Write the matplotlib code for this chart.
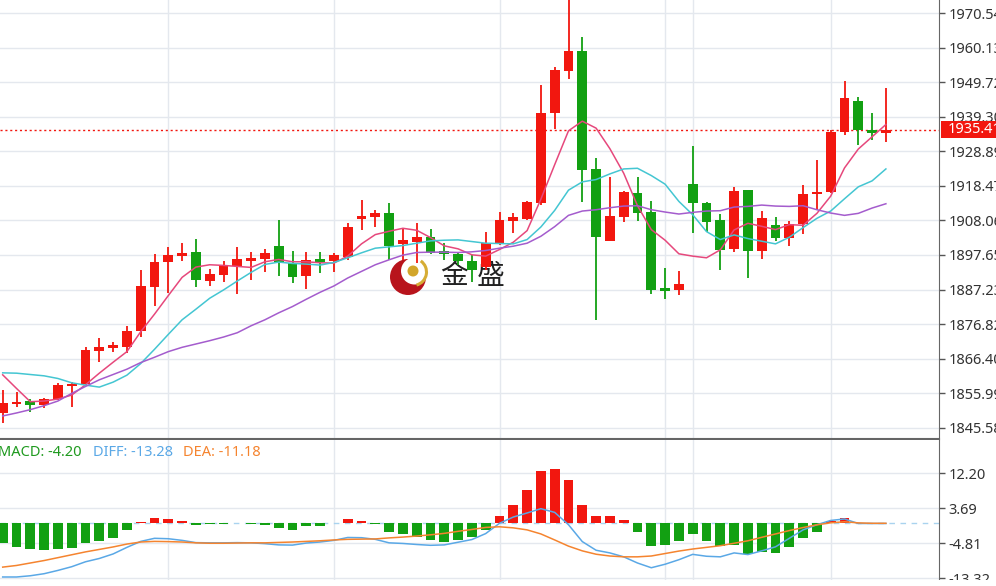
import matplotlib.pyplot as plt
import matplotlib as mplt
from matplotlib.patches import Circle, Arc, Rectangle
from matplotlib.transforms import IdentityTransform, blended_transform_factory
import numpy as np

mplt.rcParams['font.family'] = ['Noto Sans', 'DejaVu Sans']

# candles
opens = [1850.1, 1852.7, 1853.6, 1852.3, 1854.1, 1858.2, 1858.7, 1868.8, 1869.7, 1870.0,
         1874.7, 1888.1, 1895.6, 1897.3, 1898.5, 1889.9, 1891.5, 1894.4, 1895.9, 1896.4,
         1900.4, 1895.3, 1891.3, 1896.4, 1895.8, 1897.1, 1908.4, 1909.2, 1910.2, 1900.9,
         1901.7, 1903.2, 1898.6, 1897.9, 1895.9, 1894.1, 1901.2, 1908.0, 1908.5, 1913.2,
         1940.4, 1953.2, 1959.3, 1923.6, 1902.0, 1909.0, 1916.4, 1910.7, 1887.4, 1887.1,
         1919.1, 1913.2, 1908.2, 1899.4, 1917.3, 1898.9, 1906.7, 1902.7, 1906.9, 1916.1,
         1916.7, 1934.7, 1944.2, 1935.3, 1934.4]
highs = [1856.9, 1856.4, 1854.2, 1854.6, 1859.0, 1859.4, 1870.0, 1872.5, 1871.4, 1876.2,
         1893.1, 1897.9, 1900.2, 1901.2, 1902.5, 1893.4, 1895.8, 1900.0, 1898.5, 1899.5,
         1908.2, 1898.9, 1898.5, 1898.6, 1898.2, 1907.2, 1914.2, 1911.2, 1913.2, 1905.4,
         1907.2, 1905.4, 1901.2, 1898.6, 1897.7, 1904.7, 1910.5, 1910.2, 1913.9, 1948.9,
         1954.4, 1975.0, 1963.3, 1927.0, 1921.3, 1917.0, 1921.3, 1913.9, 1893.6, 1892.8,
         1930.6, 1913.7, 1910.0, 1918.2, 1917.3, 1911.0, 1909.0, 1907.9, 1918.8, 1926.3,
         1935.4, 1950.2, 1945.4, 1940.6, 1947.9]
lows = [1846.9, 1851.7, 1850.4, 1851.6, 1853.9, 1851.7, 1858.4, 1865.5, 1868.5, 1868.0,
        1873.0, 1882.3, 1886.2, 1895.9, 1887.9, 1888.4, 1889.6, 1885.9, 1890.1, 1892.6,
        1891.3, 1889.3, 1887.4, 1892.1, 1892.4, 1896.1, 1905.2, 1906.2, 1896.1, 1896.1,
        1895.1, 1898.0, 1896.1, 1894.6, 1889.6, 1893.1, 1900.7, 1904.4, 1908.2, 1912.7,
        1935.6, 1950.6, 1913.5, 1878.0, 1902.0, 1907.7, 1908.0, 1885.9, 1884.3, 1885.6,
        1904.2, 1904.7, 1893.1, 1898.6, 1890.6, 1896.4, 1901.9, 1900.4, 1904.0, 1911.2,
        1916.3, 1933.8, 1930.8, 1932.3, 1931.8]
closes = [1852.9, 1853.4, 1852.3, 1854.2, 1858.4, 1858.7, 1869.0, 1869.8, 1870.4, 1874.8,
          1888.3, 1895.6, 1897.7, 1898.2, 1890.1, 1891.8, 1894.6, 1896.4, 1896.8, 1898.2,
          1895.6, 1891.1, 1896.1, 1895.6, 1897.7, 1906.2, 1909.4, 1910.2, 1900.4, 1902.2,
          1903.2, 1898.3, 1898.1, 1895.9, 1893.1, 1901.2, 1908.2, 1909.0, 1913.5, 1940.4,
          1953.4, 1959.3, 1923.3, 1903.0, 1909.4, 1916.6, 1910.4, 1887.1, 1887.0, 1888.9,
          1913.2, 1907.7, 1899.2, 1917.0, 1898.9, 1908.7, 1902.7, 1906.9, 1916.0, 1916.7,
          1934.7, 1945.1, 1935.3, 1934.5, 1935.4]

# moving averages as drawn
ma5 = [1861.5, 1857.4, 1853.4, 1853.6, 1854.2, 1855.4, 1858.5, 1862.0, 1865.3, 1868.5,
       1874.5, 1879.8, 1885.4, 1890.9, 1894.0, 1894.7, 1894.5, 1894.2, 1893.9, 1895.6,
       1896.3, 1895.6, 1895.6, 1895.3, 1895.2, 1897.3, 1901.0, 1903.8, 1904.8, 1905.7,
       1905.1, 1902.9, 1900.4, 1899.5, 1897.7, 1897.3, 1899.3, 1901.5, 1905.0, 1914.5,
       1924.9, 1935.1, 1938.0, 1935.9, 1929.7, 1922.3, 1912.5, 1905.3, 1902.1, 1898.0,
       1897.3, 1896.8, 1899.2, 1905.2, 1907.2, 1906.3, 1905.3, 1906.8, 1906.6, 1910.2,
       1915.4, 1923.9, 1929.6, 1933.3, 1937.0]
ma10 = [1862.1, 1862.0, 1861.6, 1861.2, 1860.4, 1859.1, 1858.4, 1857.8, 1859.3, 1861.4,
        1864.9, 1869.2, 1873.7, 1878.1, 1881.3, 1884.6, 1887.1, 1889.8, 1892.4, 1894.8,
        1895.5, 1895.1, 1894.9, 1894.6, 1895.4, 1896.8, 1898.3, 1899.7, 1900.1, 1900.5,
        1901.2, 1901.9, 1902.1, 1902.2, 1901.7, 1901.2, 1901.1, 1901.0, 1902.3, 1906.1,
        1911.1, 1917.2, 1919.7, 1920.4, 1922.1, 1923.6, 1923.8, 1921.6, 1919.0, 1913.8,
        1909.8, 1904.7, 1902.3, 1903.7, 1902.6, 1901.8, 1901.0, 1903.0, 1905.9, 1908.7,
        1910.9, 1914.6, 1918.2, 1920.0, 1923.6]
ma20 = [1849.1, 1850.0, 1851.0, 1852.2, 1853.6, 1855.9, 1858.0, 1860.0, 1861.6, 1863.2,
        1865.2, 1866.8, 1868.5, 1869.8, 1870.8, 1871.8, 1872.9, 1874.2, 1876.3, 1878.1,
        1880.2, 1882.1, 1884.3, 1886.4, 1888.3, 1890.7, 1892.7, 1894.7, 1896.2, 1897.6,
        1898.4, 1898.5, 1898.5, 1898.4, 1898.6, 1899.0, 1899.7, 1900.3, 1901.2, 1903.3,
        1906.2, 1909.6, 1910.9, 1911.3, 1911.9, 1912.4, 1912.5, 1911.3, 1910.6, 1910.0,
        1910.5, 1910.9, 1911.0, 1912.1, 1912.3, 1912.7, 1912.4, 1912.3, 1912.5, 1911.3,
        1910.3, 1909.6, 1910.2, 1911.8, 1913.1]

# MACD panel
macd_hist = [-4.8, -5.65, -6.2, -6.4, -6.2, -5.85, -4.75, -4.35, -3.45, -1.65,
             0.3, 1.4, 1.15, 0.65, -0.3, -0.15, -0.05, 0.0, -0.1, -0.45,
             -1.2, -1.5, -0.7, -0.5, 0.05, 1.1, 0.7, -0.2, -2.0, -2.5,
             -3.3, -4.1, -4.4, -3.9, -3.4, -1.5, 1.7, 4.4, 8.1, 12.7,
             13.2, 10.6, 4.6, 1.9, 1.9, 0.9, -2.1, -5.5, -5.25, -4.2,
             -2.5, -4.3, -5.5, -5.2, -7.5, -6.9, -7.1, -5.7, -3.6, -2.0,
             0.7, 1.3, 0.1, 0.0, 0.0]
diff = [-13.0, -13.0, -12.7, -12.2, -11.4, -10.5, -9.3, -8.5, -7.4, -5.8,
        -4.35, -3.6, -3.7, -4.1, -4.65, -4.7, -4.7, -4.65, -4.7, -4.9,
        -5.2, -5.25, -4.75, -4.5, -4.1, -3.4, -3.45, -3.85, -4.7, -4.85,
        -5.1, -5.3, -5.2, -4.55, -3.9, -2.45, 0.05, 1.57, 2.56, 3.6,
        2.7, -0.3, -4.4, -6.5, -7.15, -8.1, -9.6, -10.75, -9.9, -8.8,
        -7.5, -7.96, -8.1, -7.15, -7.55, -6.65, -5.67, -3.6, -1.55, -0.3,
        0.74, 1.1, 0.0, 0.0, 0.0]
dea = [-10.6, -10.2, -9.6, -9.0, -8.3, -7.6, -6.9, -6.3, -5.7, -5.0,
       -4.5, -4.35, -4.4, -4.5, -4.7, -4.8, -4.8, -4.75, -4.7, -4.7,
       -4.6, -4.5, -4.35, -4.2, -4.0, -3.85, -3.8, -3.75, -3.5, -3.3,
       -3.05, -2.75, -2.4, -1.9, -1.45, -0.95, -0.8, -1.06, -1.55, -2.54,
       -4.0, -5.5, -6.65, -7.47, -7.9, -8.1, -8.1, -7.9, -7.3, -6.7,
       -6.2, -5.8, -5.4, -4.8, -4.2, -3.36, -2.54, -1.72, -0.98, -0.32,
       0.17, 0.42, 0.15, 0.05, 0.05]

price_ticks = [1970.54, 1960.13, 1949.72, 1939.30, 1928.89, 1918.47, 1908.06,
               1897.65, 1887.23, 1876.82, 1866.40, 1855.99, 1845.58]
macd_ticks = [12.20, 3.69, -4.81, -13.32]
last_price = 1935.41
vgrid = [12, 24, 36, 48, 50, 60]

RED = '#f2170f'
GREEN = '#12a012'
GRID = '#e4e8ee'

W, H = 996, 586
fig = plt.figure(figsize=(W / 100, H / 100), dpi=100)
fig.patch.set_facecolor('white')

ax = fig.add_axes([0, 1 - 438.5 / H, 939 / W, 438.5 / H])
axm = fig.add_axes([0, 6 / H, 939 / W, (580 - 439.5) / H])

idx = np.arange(len(closes))
O, Hh, L, C = map(np.array, (opens, highs, lows, closes))
cols = np.where(C >= O, RED, GREEN)

xlim = (-2.7 / 13.8, (939 - 2.7) / 13.8)

# price panel
ax.set_xlim(*xlim)
ax.set_ylim(1842.30, 1974.55)
ax.vlines(idx, L, Hh, colors=cols, lw=1.3, zorder=3)
hgt = np.maximum(np.abs(C - O), 0.75)
bot = (O + C) / 2 - hgt / 2
ax.bar(idx, hgt, 0.72, bot, color=cols, lw=0, zorder=4)

ax.plot(idx, ma5, color='#e6487c', lw=1.1, zorder=5)
ax.plot(idx, ma10, color='#44c6d2', lw=1.1, zorder=5)
ax.plot(idx, ma20, color='#a45ccd', lw=1.1, zorder=5)

ax.axhline(last_price, color=RED, ls=(0, (1.5, 2)), lw=1, zorder=2)

ax.set_yticks(price_ticks, [f'{v:.2f}' for v in price_ticks])
ax.yaxis.tick_right()
ax.tick_params(axis='y', length=4, width=1, color='#555', labelcolor='#333',
               labelsize=10.5, pad=3)
ax.set_xticks([])
ax.grid(axis='y', color=GRID, lw=1)
ax.set_axisbelow(True)
for v in vgrid:
    ax.axvline(v, color=GRID, lw=1, zorder=0.5)
for s in ('top', 'left'):
    ax.spines[s].set_visible(False)
ax.spines['right'].set_color('#666')
ax.spines['bottom'].set_color('#666')
ax.spines['bottom'].set_linewidth(1.5)

# last price tag
bt = blended_transform_factory(ax.transAxes, ax.transData)
ax.add_patch(Rectangle((1 + 2 / 939, last_price - 2.6), 70 / 939, 5.2, transform=bt,
                       fc=RED, ec='none', clip_on=False, zorder=10))
ax.text(1 + 9 / 939, last_price, f'{last_price:.2f}', transform=bt, color='white',
        fontsize=10.5, va='center', ha='left', clip_on=False, zorder=11)

# watermark
idt = IdentityTransform()
ax.add_patch(Circle((408, H - 277), 18, transform=idt, fc='#b8141c', ec='none', zorder=1.5))
ax.add_patch(Circle((414.5, H - 271), 13.5, transform=idt, fc='white', ec='none', zorder=1.6))
ax.add_patch(Arc((413, H - 272), 27, 27, theta1=-75, theta2=55, transform=idt,
                 color='#d6ad35', lw=2.2, zorder=1.7))
ax.add_patch(Circle((413, H - 271), 5.5, transform=idt, fc='#d2a62b', ec='none', zorder=1.7))
ax.text(440, H - 276, '金', transform=idt, fontsize=20, family=['Noto Sans CJK SC'],
        color='#222', va='center', ha='left', zorder=1.8)
ax.text(477, H - 276, '盛', transform=idt, fontsize=20, family=['Noto Sans CJK SC'],
        color='#222', va='center', ha='left', zorder=1.8)

# MACD panel
axm.set_xlim(*xlim)
axm.set_ylim(-13.73, 20.41)
hist = np.array(macd_hist)
axm.bar(idx, hist, 0.7, color=np.where(hist >= 0, RED, GREEN), lw=0, zorder=3)
axm.axhline(0, color='#a9d3ef', ls=(0, (4, 4)), lw=1, zorder=2)
axm.plot(idx, diff, color='#5aa8e6', lw=1.1, zorder=4)
axm.plot(idx, dea, color='#f5842f', lw=1.1, zorder=4)
axm.set_yticks(macd_ticks, [f'{v:.2f}' for v in macd_ticks])
axm.yaxis.tick_right()
axm.tick_params(axis='y', length=4, width=1, color='#555', labelcolor='#333',
                labelsize=10.5, pad=3)
axm.set_xticks([])
axm.grid(axis='y', color=GRID, lw=1)
axm.set_axisbelow(True)
for v in vgrid:
    axm.axvline(v, color=GRID, lw=1, zorder=0.5)
for s in ('top', 'left', 'bottom'):
    axm.spines[s].set_visible(False)
axm.spines['right'].set_color('#666')

fig.text(-2 / W, 1 - 452 / H, 'MACD: -4.20', color='#1f9a1f', fontsize=10.5, va='center')
fig.text(93 / W, 1 - 452 / H, 'DIFF: -13.28', color='#5aa8e6', fontsize=10.5, va='center')
fig.text(183 / W, 1 - 452 / H, 'DEA: -11.18', color='#f5842f', fontsize=10.5, va='center')

fig.add_artist(Rectangle((0, 0), 1, 6 / H, transform=fig.transFigure,
                         fc='white', ec='none', zorder=20))

fig.savefig('out.png', dpi=100, facecolor='white')
